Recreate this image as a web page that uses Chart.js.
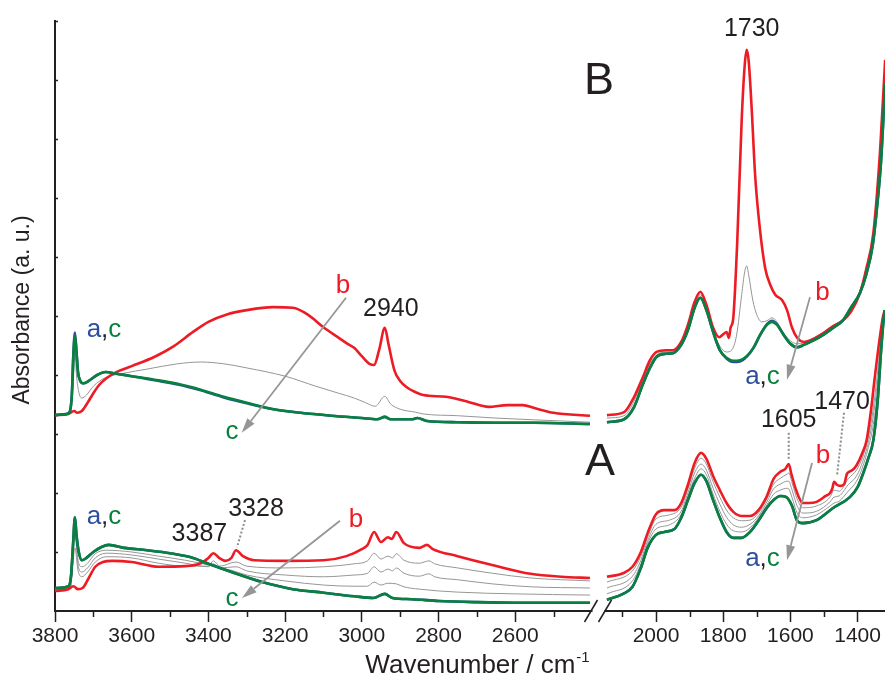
<!DOCTYPE html>
<html>
<head>
<meta charset="utf-8">
<script src="https://cdn.jsdelivr.net/npm/chart.js@4.4.1/dist/chart.umd.min.js"></script>
<style>
  html, body { margin: 0; padding: 0; background: #ffffff; }
  canvas { display: block; }
</style>
</head>
<body>
<canvas id="chart" width="885" height="675"></canvas>
<script>
// ---- Broken wavenumber axis: 3800-2400 cm-1 | 2140-1318 cm-1 ----
const LEFT_START = 3800, LEFT_SCALE = 0.3835;
const RIGHT_REF = 2000, RIGHT_OFFSET = 601, RIGHT_SCALE = 0.336;
const X_MAX = 830;
const BREAK_POS = 543.5;
function pos(w) {
  return w > 2300 ? (LEFT_START - w) * LEFT_SCALE : RIGHT_OFFSET + (RIGHT_REF - w) * RIGHT_SCALE;
}

const majorTicks = [3800, 3600, 3400, 3200, 3000, 2800, 2600, 2000, 1800, 1600, 1400];
const minorTicks = [3700, 3500, 3300, 3100, 2900, 2700, 2500, 2100, 1900, 1700, 1500];

// ---- Spectra [wavenumber, absorbance (a. u., offset)] ----
// Set B
const bGreenLeft = [[3800,3.32],[3770,3.34],[3762,3.37],[3756,3.66],[3752,4.34],[3748,4.66],[3744,4.39],[3740,4.05],[3734,3.90],[3726,3.86],[3712,3.90],[3690,4.00],[3668,4.05],[3640,4.02],[3600,3.98],[3540,3.92],[3480,3.85],[3420,3.75],[3360,3.63],[3300,3.53],[3230,3.42],[3160,3.36],[3080,3.31],[3000,3.27],[2960,3.25],[2940,3.29],[2925,3.25],[2870,3.25],[2855,3.27],[2830,3.22],[2750,3.20],[2650,3.19],[2550,3.19],[2405,3.17]];
const bBlueLeft = [[3800,3.32],[3770,3.34],[3762,3.37],[3756,3.68],[3752,4.38],[3748,4.72],[3744,4.41],[3740,4.05],[3734,3.90],[3726,3.86],[3712,3.90],[3690,4.00],[3668,4.05],[3640,4.02],[3600,3.98],[3540,3.91],[3480,3.84],[3420,3.74],[3360,3.62],[3300,3.52],[3230,3.42],[3160,3.36],[3080,3.31],[3000,3.27],[2960,3.25],[2940,3.29],[2925,3.25],[2870,3.25],[2855,3.27],[2830,3.22],[2750,3.20],[2650,3.19],[2550,3.19],[2405,3.17]];
const bRedLeft = [[3800,3.32],[3765,3.34],[3750,3.39],[3742,3.36],[3730,3.39],[3715,3.53],[3700,3.69],[3685,3.83],[3665,3.95],[3640,4.05],[3600,4.15],[3540,4.31],[3490,4.49],[3440,4.73],[3400,4.90],[3350,5.03],[3300,5.10],[3232,5.15],[3180,5.14],[3140,5.02],[3100,4.81],[3060,4.63],[3040,4.54],[3020,4.46],[3000,4.32],[2980,4.19],[2968,4.17],[2955,4.42],[2940,4.80],[2930,4.51],[2915,4.08],[2900,3.90],[2880,3.78],[2860,3.71],[2840,3.66],[2780,3.63],[2720,3.54],[2670,3.46],[2620,3.49],[2580,3.49],[2550,3.44],[2500,3.36],[2405,3.31]];
const bGrayLeft = [[3800,3.32],[3762,3.36],[3752,3.92],[3748,4.39],[3744,4.00],[3738,3.71],[3730,3.61],[3718,3.66],[3700,3.81],[3670,3.95],[3620,4.03],[3560,4.10],[3480,4.19],[3420,4.22],[3360,4.19],[3300,4.12],[3200,3.98],[3120,3.81],[3060,3.69],[3020,3.61],[2990,3.53],[2965,3.47],[2940,3.64],[2925,3.51],[2900,3.42],[2860,3.37],[2840,3.34],[2750,3.31],[2650,3.27],[2550,3.24],[2405,3.20]];

const bRedRight = [[2146,3.32],[2095,3.37],[2065,3.63],[2040,3.95],[2018,4.25],[1998,4.39],[1970,4.42],[1950,4.42],[1925,4.56],[1905,4.85],[1885,5.24],[1868,5.41],[1850,5.19],[1830,4.80],[1812,4.64],[1800,4.69],[1790,4.73],[1783,4.63],[1778,4.80],[1770,4.97],[1758,6.29],[1745,8.32],[1736,9.25],[1730,9.51],[1724,9.31],[1715,8.49],[1705,7.39],[1692,6.54],[1675,5.81],[1660,5.53],[1645,5.36],[1625,5.27],[1610,5.10],[1595,4.80],[1580,4.63],[1560,4.56],[1540,4.59],[1510,4.68],[1480,4.80],[1443,4.93],[1420,5.07],[1393,5.39],[1375,5.78],[1353,6.41],[1333,7.81],[1318,9.34]];
const bGreenRight = [[2146,3.20],[2095,3.25],[2065,3.46],[2040,3.83],[2018,4.12],[1998,4.31],[1970,4.36],[1950,4.37],[1925,4.51],[1905,4.76],[1885,5.14],[1868,5.31],[1850,5.10],[1830,4.73],[1810,4.42],[1790,4.29],[1770,4.24],[1750,4.25],[1730,4.32],[1710,4.46],[1690,4.68],[1670,4.85],[1655,4.90],[1640,4.85],[1620,4.68],[1600,4.53],[1580,4.47],[1560,4.51],[1530,4.59],[1500,4.69],[1470,4.81],[1443,4.93],[1420,5.14],[1393,5.39],[1375,5.69],[1355,6.20],[1340,6.97],[1330,7.64],[1318,8.95]];
const bBlueRight = [[2146,3.20],[2095,3.25],[2065,3.46],[2040,3.83],[2018,4.12],[1998,4.31],[1970,4.36],[1950,4.37],[1925,4.51],[1905,4.76],[1885,5.14],[1868,5.31],[1850,5.10],[1830,4.73],[1810,4.42],[1790,4.28],[1770,4.22],[1750,4.23],[1730,4.31],[1710,4.46],[1690,4.68],[1670,4.86],[1655,4.92],[1640,4.86],[1620,4.68],[1600,4.53],[1580,4.47],[1560,4.51],[1530,4.59],[1500,4.69],[1470,4.81],[1443,4.93],[1420,5.14],[1393,5.39],[1375,5.69],[1355,6.20],[1340,6.97],[1330,7.64],[1318,8.95]];
const bGrayRight = [[2146,3.27],[2095,3.31],[2065,3.56],[2040,3.92],[2018,4.19],[1998,4.34],[1970,4.39],[1950,4.39],[1925,4.53],[1905,4.80],[1885,5.19],[1868,5.36],[1850,5.14],[1830,4.76],[1810,4.49],[1790,4.39],[1775,4.42],[1760,4.68],[1745,5.36],[1736,5.75],[1730,5.85],[1724,5.69],[1712,5.27],[1700,5.02],[1685,4.90],[1670,4.92],[1655,4.97],[1640,4.90],[1620,4.71],[1600,4.58],[1580,4.53],[1560,4.54],[1530,4.63],[1500,4.73],[1470,4.85],[1443,4.93],[1420,5.10],[1393,5.39],[1375,5.75],[1353,6.34],[1333,7.73],[1318,9.24]];

// Set A
const aRedLeft = [[3800,0.34],[3765,0.37],[3752,0.42],[3740,0.37],[3728,0.39],[3712,0.56],[3695,0.75],[3675,0.83],[3650,0.85],[3600,0.83],[3530,0.75],[3460,0.76],[3420,0.81],[3400,0.90],[3387,0.98],[3372,0.90],[3355,0.85],[3340,0.90],[3328,1.03],[3310,0.93],[3280,0.86],[3200,0.85],[3100,0.86],[3040,0.93],[3000,1.05],[2985,1.12],[2968,1.34],[2950,1.17],[2932,1.25],[2922,1.22],[2910,1.34],[2890,1.15],[2850,1.07],[2830,1.12],[2815,1.05],[2750,0.93],[2660,0.78],[2560,0.63],[2480,0.58],[2405,0.56]];
const aGreenLeft = [[3800,0.39],[3765,0.42],[3758,0.61],[3753,1.12],[3748,1.59],[3744,1.29],[3738,1.00],[3730,0.86],[3718,0.90],[3700,1.00],[3680,1.08],[3660,1.12],[3620,1.07],[3560,1.03],[3500,0.98],[3440,0.90],[3400,0.80],[3340,0.66],[3260,0.49],[3180,0.37],[3100,0.31],[3020,0.25],[2970,0.22],[2940,0.29],[2920,0.22],[2870,0.20],[2800,0.17],[2700,0.15],[2600,0.14],[2405,0.14]];
const aGray1Left = [[3800,0.36],[3760,0.39],[3748,1.07],[3740,0.69],[3730,0.58],[3715,0.66],[3695,0.83],[3665,0.92],[3600,0.90],[3530,0.81],[3460,0.76],[3400,0.76],[3387,0.85],[3370,0.76],[3328,0.83],[3300,0.76],[3200,0.73],[3100,0.75],[3020,0.80],[2985,0.85],[2968,0.98],[2950,0.88],[2932,0.93],[2920,0.90],[2910,0.97],[2890,0.86],[2850,0.81],[2825,0.85],[2810,0.80],[2750,0.73],[2660,0.64],[2560,0.56],[2405,0.51]];
const aGray2Left = [[3800,0.37],[3760,0.41],[3748,1.29],[3740,0.78],[3730,0.66],[3715,0.73],[3695,0.90],[3665,0.98],[3600,0.95],[3530,0.88],[3460,0.81],[3400,0.75],[3387,0.80],[3370,0.73],[3328,0.75],[3300,0.68],[3200,0.61],[3100,0.58],[3020,0.61],[2985,0.64],[2968,0.75],[2950,0.66],[2932,0.71],[2920,0.68],[2910,0.73],[2890,0.64],[2850,0.59],[2825,0.63],[2810,0.58],[2750,0.53],[2660,0.46],[2560,0.41],[2405,0.39]];
const aGray3Left = [[3800,0.37],[3760,0.41],[3748,1.42],[3740,0.86],[3730,0.75],[3715,0.81],[3695,0.97],[3665,1.03],[3600,1.00],[3530,0.93],[3460,0.86],[3400,0.78],[3340,0.69],[3300,0.61],[3200,0.51],[3100,0.44],[3020,0.42],[2985,0.42],[2968,0.49],[2950,0.44],[2932,0.47],[2910,0.46],[2890,0.41],[2850,0.37],[2750,0.32],[2600,0.29],[2405,0.27]];

const aRedRight = [[2146,0.58],[2098,0.64],[2070,0.75],[2045,1.00],[2025,1.32],[2000,1.64],[1975,1.71],[1945,1.71],[1925,1.83],[1905,2.14],[1885,2.51],[1866,2.68],[1850,2.58],[1830,2.29],[1810,2.05],[1790,1.83],[1770,1.68],[1745,1.61],[1720,1.61],[1695,1.71],[1670,1.95],[1650,2.24],[1630,2.36],[1615,2.41],[1605,2.49],[1597,2.32],[1583,2.05],[1563,1.83],[1545,1.83],[1522,1.85],[1495,1.95],[1482,2.00],[1475,2.08],[1470,2.19],[1462,2.14],[1450,2.12],[1440,2.15],[1432,2.32],[1425,2.36],[1415,2.39],[1403,2.47],[1385,2.69],[1373,2.90],[1360,3.41],[1348,4.00],[1335,4.59],[1325,4.97],[1319,5.10]];
const aGreenRight = [[2146,0.19],[2098,0.29],[2070,0.41],[2045,0.73],[2025,1.07],[2000,1.29],[1975,1.34],[1945,1.39],[1925,1.58],[1905,1.88],[1885,2.17],[1866,2.31],[1850,2.20],[1830,1.88],[1810,1.58],[1790,1.34],[1770,1.24],[1745,1.24],[1720,1.34],[1695,1.53],[1670,1.75],[1650,1.88],[1630,1.95],[1612,1.93],[1595,1.78],[1580,1.53],[1563,1.49],[1522,1.54],[1472,1.75],[1423,1.93],[1400,2.10],[1383,2.34],[1368,2.59],[1353,2.90],[1340,3.58],[1330,4.42],[1322,4.97],[1319,5.10]];
const aGray1Right = [[2146,0.49],[2070,0.68],[2045,0.93],[2025,1.25],[2000,1.56],[1960,1.63],[1925,1.76],[1905,2.07],[1885,2.42],[1866,2.59],[1850,2.49],[1830,2.19],[1810,1.93],[1790,1.71],[1770,1.58],[1745,1.53],[1720,1.54],[1695,1.66],[1670,1.90],[1650,2.15],[1630,2.25],[1610,2.32],[1605,2.34],[1595,2.17],[1580,1.90],[1563,1.75],[1522,1.78],[1482,1.93],[1470,2.05],[1455,2.03],[1428,2.24],[1403,2.39],[1385,2.61],[1370,2.90],[1355,3.37],[1340,4.08],[1330,4.66],[1322,5.00],[1319,5.10]];
const aGray2Right = [[2146,0.39],[2070,0.59],[2045,0.86],[2025,1.19],[2000,1.47],[1960,1.54],[1925,1.69],[1905,2.00],[1885,2.34],[1866,2.49],[1850,2.39],[1830,2.08],[1810,1.81],[1790,1.59],[1770,1.46],[1745,1.42],[1720,1.47],[1695,1.61],[1670,1.85],[1650,2.07],[1630,2.15],[1610,2.20],[1605,2.20],[1595,2.05],[1580,1.78],[1563,1.66],[1522,1.69],[1482,1.85],[1470,1.93],[1455,1.95],[1428,2.14],[1403,2.29],[1385,2.53],[1370,2.81],[1355,3.24],[1340,3.92],[1330,4.58],[1322,4.98],[1319,5.10]];
const aGray3Right = [[2146,0.29],[2070,0.51],[2045,0.80],[2025,1.14],[2000,1.39],[1960,1.46],[1925,1.64],[1905,1.95],[1885,2.25],[1866,2.41],[1850,2.31],[1830,1.98],[1810,1.69],[1790,1.47],[1770,1.36],[1745,1.34],[1720,1.41],[1695,1.58],[1670,1.80],[1650,1.98],[1630,2.05],[1610,2.08],[1605,2.07],[1595,1.92],[1580,1.66],[1563,1.58],[1522,1.63],[1482,1.78],[1470,1.83],[1455,1.86],[1428,2.03],[1403,2.20],[1385,2.44],[1370,2.73],[1355,3.10],[1340,3.75],[1330,4.51],[1322,4.98],[1319,5.10]];
// spectrum a coincides with c in set A
const aBlueLeft = aGreenLeft;
const aBlueRight = aGreenRight;

// ---- Styling ----
const RED = 'rgb(237,28,36)';
const GREEN = 'rgb(8,128,62)';
const BLUE = 'rgb(44,78,160)';
const GRAY = 'rgb(150,150,150)';
const INK = '#231f20';
const FONT = '"Liberation Sans", Arial, Helvetica, sans-serif';

function series(points, color, width) {
  return {
    data: points.map(([w, v]) => ({ x: pos(w), y: v })),
    borderColor: color,
    borderWidth: width,
    pointRadius: 0,
    fill: false,
    cubicInterpolationMode: 'monotone'
  };
}

// front-most first
const datasets = [
  series(bGreenLeft, GREEN, 2.6), series(bGreenRight, GREEN, 2.6),
  series(aGreenLeft, GREEN, 2.6), series(aGreenRight, GREEN, 2.6),
  series(bBlueLeft, BLUE, 2.6), series(bBlueRight, BLUE, 2.6),
  series(aBlueLeft, BLUE, 2.6), series(aBlueRight, BLUE, 2.6),
  series(bRedLeft, RED, 2.6), series(bRedRight, RED, 2.6),
  series(aRedLeft, RED, 2.6), series(aRedRight, RED, 2.6),
  series(bGrayLeft, GRAY, 1), series(bGrayRight, GRAY, 1),
  series(aGray1Left, GRAY, 1), series(aGray1Right, GRAY, 1),
  series(aGray2Left, GRAY, 1), series(aGray2Right, GRAY, 1),
  series(aGray3Left, GRAY, 1), series(aGray3Right, GRAY, 1)
];

// ---- Annotations (axis units: x = axis position, y = absorbance) ----
const peakLabels = [
  { text: '1730', p: pos(1730) + 5,  v: 9.86 },
  { text: '2940', p: pos(2940) + 6,  v: 5.12 },
  { text: '3387', p: pos(3387) - 14, v: 1.31 },
  { text: '3328', p: pos(3328) + 20, v: 1.72 },
  { text: '1605', p: pos(1605),      v: 3.24 },
  { text: '1470', p: pos(1470) + 8,  v: 3.54 }
];
const panelLabels = [
  { text: 'B', p: 544, v: 8.97 },
  { text: 'A', p: 545, v: 2.51 }
];
const seriesLabels = [
  { parts: [['a', BLUE], [',', INK], ['c', GREEN]], p: 49,    v: 4.76 },
  { parts: [['a', BLUE], [',', INK], ['c', GREEN]], p: 49,    v: 1.59 },
  { parts: [['b', RED]],                            p: 288,   v: 5.51 },
  { parts: [['c', GREEN]],                          p: 177,   v: 3.03 },
  { parts: [['b', RED]],                            p: 301,   v: 1.54 },
  { parts: [['c', GREEN]],                          p: 177,   v: 0.20 },
  { parts: [['b', RED]],                            p: 767.5, v: 5.39 },
  { parts: [['a', BLUE], [',', INK], ['c', GREEN]], p: 707.5, v: 3.97 },
  { parts: [['b', RED]],                            p: 768,   v: 2.63 },
  { parts: [['a', BLUE], [',', INK], ['c', GREEN]], p: 707.5, v: 0.88 }
];
const arrows = [
  { from: [291, 5.31], to: [186.7, 3.02] },
  { from: [285, 1.53], to: [187, 0.22] },
  { from: [755, 5.32], to: [732, 3.92] },
  { from: [757, 2.51], to: [732, 0.86] }
];
const leaders = [
  { from: [190, 1.54], to: [pos(3328) + 1, 1.08] },
  { from: [pos(1605), 3.02], to: [pos(1605), 2.58] },
  { from: [789, 3.36], to: [pos(1470) + 3, 2.30] }
];

const decorations = {
  id: 'decorations',
  afterDraw(chart) {
    const { ctx, scales: { x, y }, chartArea } = chart;
    const X = p => x.getPixelForValue(p);
    const Y = v => y.getPixelForValue(v);
    const base = chartArea.bottom;
    ctx.save();

    // minor ticks on the wavenumber axis
    ctx.strokeStyle = INK;
    ctx.lineWidth = 1.5;
    minorTicks.forEach(w => {
      const px = Math.round(X(pos(w))) + 0.5;
      ctx.beginPath(); ctx.moveTo(px, base); ctx.lineTo(px, base + 6); ctx.stroke();
    });
    // inward ticks on the absorbance axis
    for (let v = 1; v <= 10; v++) {
      const py = Math.round(Y(v)) + 0.5;
      ctx.beginPath(); ctx.moveTo(chartArea.left, py); ctx.lineTo(chartArea.left + 3, py); ctx.stroke();
    }

    // axis break
    const bx = X(BREAK_POS);
    ctx.fillStyle = '#ffffff';
    ctx.fillRect(bx - 6, base - 3, 12, 6);
    ctx.strokeStyle = INK;
    ctx.lineWidth = 1.5;
    [-7, 7].forEach(off => {
      ctx.beginPath();
      ctx.moveTo(bx + off - 7, base + 11);
      ctx.lineTo(bx + off + 6, base - 11);
      ctx.stroke();
    });

    // dotted leaders
    ctx.strokeStyle = 'rgb(140,140,140)';
    ctx.lineWidth = 2;
    ctx.setLineDash([2, 2]);
    leaders.forEach(l => {
      ctx.beginPath();
      ctx.moveTo(X(l.from[0]), Y(l.from[1]));
      ctx.lineTo(X(l.to[0]), Y(l.to[1]));
      ctx.stroke();
    });
    ctx.setLineDash([]);

    // arrows
    ctx.strokeStyle = 'rgb(150,150,150)';
    ctx.fillStyle = 'rgb(150,150,150)';
    arrows.forEach(a => {
      const x1 = X(a.from[0]), y1 = Y(a.from[1]);
      const x2 = X(a.to[0]), y2 = Y(a.to[1]);
      const ang = Math.atan2(y2 - y1, x2 - x1);
      const head = 15, half = 4.5;
      const bxh = x2 - head * Math.cos(ang), byh = y2 - head * Math.sin(ang);
      ctx.lineWidth = 1.8;
      ctx.beginPath(); ctx.moveTo(x1, y1); ctx.lineTo(bxh, byh); ctx.stroke();
      ctx.beginPath();
      ctx.moveTo(x2, y2);
      ctx.lineTo(bxh + half * Math.sin(ang), byh - half * Math.cos(ang));
      ctx.lineTo(bxh - half * Math.sin(ang), byh + half * Math.cos(ang));
      ctx.closePath(); ctx.fill();
    });

    // texts
    ctx.textBaseline = 'middle';
    ctx.textAlign = 'center';
    ctx.fillStyle = INK;
    ctx.font = '25px ' + FONT;
    peakLabels.forEach(l => ctx.fillText(l.text, X(l.p), Y(l.v)));
    ctx.font = '45px ' + FONT;
    panelLabels.forEach(l => ctx.fillText(l.text, X(l.p), Y(l.v)));

    ctx.font = '26px ' + FONT;
    ctx.textAlign = 'left';
    seriesLabels.forEach(l => {
      const total = l.parts.reduce((s, [t]) => s + ctx.measureText(t).width, 0);
      let cx = X(l.p) - total / 2;
      l.parts.forEach(([t, c]) => {
        ctx.fillStyle = c;
        ctx.fillText(t, cx, Y(l.v));
        cx += ctx.measureText(t).width;
      });
    });

    // axis titles
    ctx.fillStyle = INK;
    ctx.textBaseline = 'alphabetic';
    ctx.font = '26px ' + FONT;
    const main = 'Wavenumber / cm';
    const mw = ctx.measureText(main).width;
    ctx.font = '15px ' + FONT;
    const sup = '-1';
    const sw = ctx.measureText(sup).width;
    const cxTitle = (chartArea.left + chartArea.right) / 2 + 7;
    const startX = cxTitle - (mw + sw) / 2;
    ctx.font = '26px ' + FONT;
    ctx.fillText(main, startX, base + 62);
    ctx.font = '15px ' + FONT;
    ctx.fillText(sup, startX + mw + 1, base + 51);

    ctx.save();
    ctx.translate(chartArea.left - 32, (chartArea.top + chartArea.bottom) / 2 - 6);
    ctx.rotate(-Math.PI / 2);
    ctx.textAlign = 'center';
    ctx.textBaseline = 'middle';
    ctx.font = '23px ' + FONT;
    ctx.fillText('Absorbance (a. u.)', 0, 0);
    ctx.restore();

    ctx.restore();
  }
};

new Chart(document.getElementById('chart'), {
  type: 'line',
  data: { datasets },
  options: {
    responsive: false,
    animation: false,
    layout: { padding: { top: 21, left: 0, right: 0, bottom: 0 } },
    plugins: { legend: { display: false }, tooltip: { enabled: false } },
    scales: {
      x: {
        type: 'linear',
        min: 0,
        max: X_MAX,
        afterBuildTicks: s => { s.ticks = majorTicks.map(w => ({ value: pos(w) })); },
        afterFit: s => { s.height = 64; },
        ticks: {
          autoSkip: false,
          maxRotation: 0,
          padding: 2,
          color: INK,
          font: { family: FONT, size: 21 },
          callback: (v, i) => String(majorTicks[i])
        },
        grid: { drawOnChartArea: false, drawTicks: true, tickLength: 11, tickColor: INK, tickWidth: 1.5, color: INK },
        border: { display: true, color: INK, width: 2 }
      },
      y: {
        min: 0,
        max: 10,
        afterFit: s => { s.width = 55; },
        ticks: { display: false },
        grid: { display: false },
        border: { display: true, color: INK, width: 2 }
      }
    }
  },
  plugins: [decorations]
});
</script>
</body>
</html>
